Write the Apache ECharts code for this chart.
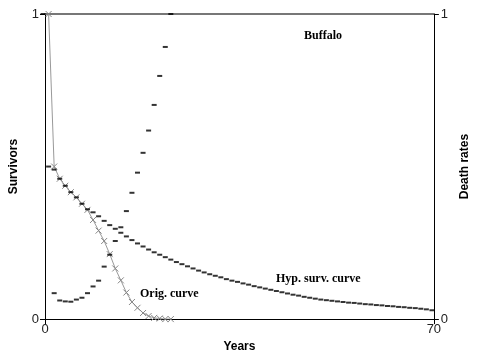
<!DOCTYPE html>
<html><head><meta charset="utf-8">
<script src="https://cdn.jsdelivr.net/npm/echarts@6/dist/echarts.min.js"></script>
<style>html,body{margin:0;padding:0;background:#fff}#c{width:479px;height:358px}</style>
</head><body><div id="c"></div>
<script>
// Hypothetical survival curve (x = years, y = survivors)
const hypX = [];
for (let k = 0; k <= 70; k++) hypX.push(k - 0.35);
const hypY = [1.0,0.50,0.49,0.46,0.437,0.416,0.399,0.378,0.36,0.35,0.337,0.322,0.308,0.296,0.283,0.271,0.259,0.248,0.238,0.228,0.219,0.211,0.203,0.195,0.187,0.180,0.173,0.166,0.159,0.153,0.147,0.142,0.137,0.131,0.126,0.122,0.117,0.113,0.108,0.104,0.100,0.096,0.092,0.088,0.084,0.080,0.077,0.073,0.070,0.067,0.064,0.062,0.060,0.058,0.056,0.054,0.053,0.051,0.049,0.048,0.046,0.045,0.043,0.042,0.040,0.039,0.037,0.036,0.034,0.032,0.029];
// Original survival curve
const origX = [];
for (let k = 0; k <= 22; k++) origX.push(k + 0.65);
const origY = [1.0,0.50,0.46,0.437,0.416,0.399,0.378,0.358,0.325,0.29,0.256,0.213,0.166,0.127,0.087,0.056,0.037,0.02,0.01,0.004,0.002,0.0,0.0];
// Death rates (right axis)
const deathX = [];
for (let k = 0; k <= 21; k++) deathX.push(k + 1.65);
const deathY = [0.085,0.061,0.058,0.057,0.064,0.070,0.085,0.107,0.126,0.172,0.211,0.256,0.301,0.354,0.414,0.480,0.545,0.618,0.702,0.797,0.892,1.0];

const xTicks = [0, 70];
const yTicks = [0, 1];

const pair = (xs, ys) => xs.map((x, i) => [x, ys[i]]);

const chart = echarts.init(document.getElementById('c'));
const tickFont = {fontFamily: 'Liberation Sans Narrow, Liberation Sans, sans-serif', fontSize: 13, color: '#222'};
const nameFont = {fontFamily: 'Liberation Sans, Arial, sans-serif', fontSize: 12, fontWeight: 'bold', color: '#000'};
const serifBold = {fontFamily: 'Liberation Serif, Times New Roman, serif', fontSize: 12, fontWeight: 'bold', fill: '#000'};

chart.setOption({
  animation: false,
  backgroundColor: '#fff',
  grid: {left: 43, right: 37, top: 14, bottom: 36},
  xAxis: [{
    type: 'value', min: xTicks[0], max: xTicks[1], interval: 70,
    name: 'Years', nameLocation: 'middle', nameGap: 18, nameTextStyle: nameFont,
    axisLine: {show: true, onZero: false, lineStyle: {color: '#000', width: 1}},
    axisTick: {show: true, length: 5, lineStyle: {color: '#000'}},
    axisLabel: Object.assign({margin: 4}, tickFont),
    splitLine: {show: false}
  }, {
    type: 'value', min: 0, max: 70, position: 'top',
    axisLine: {show: true, onZero: false, lineStyle: {color: '#777', width: 2}},
    axisTick: {show: false}, axisLabel: {show: false}, splitLine: {show: false}
  }],
  yAxis: [{
    type: 'value', min: yTicks[0], max: yTicks[1], interval: 1,
    name: 'Survivors', nameLocation: 'middle', nameGap: 25, nameRotate: 90, nameTextStyle: nameFont,
    axisLine: {show: true, onZero: false, lineStyle: {color: '#000', width: 1}},
    axisTick: {show: true, length: 5, lineStyle: {color: '#000'}},
    axisLabel: Object.assign({margin: 6}, tickFont),
    splitLine: {show: false}
  }, {
    type: 'value', min: yTicks[0], max: yTicks[1], interval: 1, position: 'right',
    name: 'Death rates', nameLocation: 'middle', nameGap: 20, nameRotate: 90, nameTextStyle: nameFont,
    axisLine: {show: true, onZero: false, lineStyle: {color: '#000', width: 1}},
    axisTick: {show: true, length: 5, lineStyle: {color: '#000'}},
    axisLabel: Object.assign({margin: 7}, tickFont),
    splitLine: {show: false}
  }],
  series: [{
    name: 'Orig. curve', type: 'line', xAxisIndex: 0, yAxisIndex: 0,
    data: pair(origX, origY),
    symbol: 'path://M0,0L10,10M10,0L0,10', symbolSize: 6,
    itemStyle: {color: 'none', borderColor: '#888', borderWidth: 1},
    lineStyle: {color: '#999', width: 1},
    z: 2
  }, {
    name: 'Hyp. surv. curve', type: 'scatter', xAxisIndex: 0, yAxisIndex: 0,
    data: pair(hypX, hypY), clip: false,
    symbol: 'rect', symbolSize: [5, 2],
    itemStyle: {color: '#000'}, z: 3
  }, {
    name: 'Death rates', type: 'scatter', xAxisIndex: 0, yAxisIndex: 1,
    data: pair(deathX, deathY), clip: false,
    symbol: 'rect', symbolSize: [5, 2],
    itemStyle: {color: '#000'}, z: 3
  }],
  graphic: [
    {type: 'text', left: 304, top: 30, style: Object.assign({text: 'Buffalo'}, serifBold)},
    {type: 'text', left: 276, top: 273, style: Object.assign({text: 'Hyp. surv. curve'}, serifBold)},
    {type: 'text', left: 140, top: 288, style: Object.assign({text: 'Orig. curve'}, serifBold)}
  ]
});
</script></body></html>
